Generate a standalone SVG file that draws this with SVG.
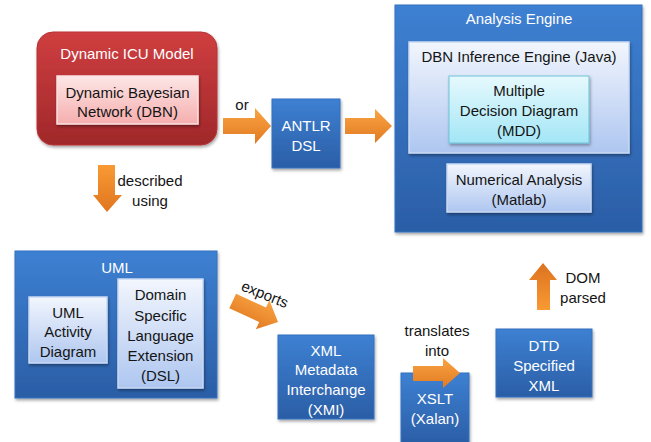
<svg xmlns="http://www.w3.org/2000/svg" width="651" height="442" viewBox="0 0 651 442">
<defs>
<linearGradient id="gBlue" x1="0" y1="0" x2="0" y2="1"><stop offset="0" stop-color="#3d80d2"/><stop offset="1" stop-color="#2b5ea6"/></linearGradient>
<linearGradient id="gLight" x1="0" y1="0" x2="0" y2="1"><stop offset="0" stop-color="#f2f6fd"/><stop offset="1" stop-color="#aec6f0"/></linearGradient>
<linearGradient id="gCyan" x1="0" y1="0" x2="0" y2="1"><stop offset="0" stop-color="#e6f9fd"/><stop offset="1" stop-color="#a3e6f6"/></linearGradient>
<linearGradient id="gRed" x1="0" y1="0" x2="0" y2="1"><stop offset="0" stop-color="#cf3e40"/><stop offset="1" stop-color="#a0282a"/></linearGradient>
<linearGradient id="gPink" x1="0" y1="0" x2="0" y2="1"><stop offset="0" stop-color="#fde6e6"/><stop offset="1" stop-color="#f6aeae"/></linearGradient>
<linearGradient id="gOrange" x1="0" y1="0" x2="0" y2="1"><stop offset="0" stop-color="#f9a443"/><stop offset="1" stop-color="#e27a22"/></linearGradient>
<linearGradient id="gOrangeDown" x1="0" y1="0" x2="0" y2="1"><stop offset="0" stop-color="#f99a33"/><stop offset="1" stop-color="#e07520"/></linearGradient>
<linearGradient id="gOrangeUp" x1="0" y1="1" x2="0" y2="0"><stop offset="0" stop-color="#f99a33"/><stop offset="1" stop-color="#dc7220"/></linearGradient>
<filter id="sh" x="-10%" y="-10%" width="125%" height="130%"><feDropShadow dx="1" dy="2" stdDeviation="1.5" flood-color="#000" flood-opacity="0.35"/></filter>
</defs>
<style>
text{font-family:"Liberation Sans",Arial,sans-serif;font-size:15px;text-anchor:middle;dominant-baseline:central}
.w{fill:#ffffff}
.d{fill:#141414}
.blue{fill:url(#gBlue);stroke:#3570bf;stroke-width:1;filter:url(#sh)}
.light{fill:url(#gLight);stroke:#c9d9f3;stroke-width:1.5;filter:url(#sh)}
.cyan{fill:url(#gCyan);stroke:#6fc3d8;stroke-width:1;filter:url(#sh)}
.arr{fill:url(#gOrange)}
</style>
<rect width="651" height="442" fill="#ffffff"/>

<g id="connectors">
<polygon class="arr" points="223,118 255,118 255,108 271,126 255,144 255,134 223,134"/>
<polygon class="arr" points="345,118 375,118 375,109 392,126 375,143 375,134 345,134"/>
<polygon fill="url(#gOrangeDown)" points="98,165 115,165 115,195 122,195 107,212 93,195 98,195"/>
<polygon class="arr" transform="translate(232.7,300.9) rotate(25)" points="0,-8 33,-8 33,-16 50,0 33,16 33,8 0,8"/>
<polygon fill="url(#gOrangeUp)" points="537,310 550,310 550,280 557,280 543,263 529,280 537,280"/>
<text class="d" x="242" y="104">or</text>
<text class="d" x="150" y="180">described</text>
<text class="d" x="150" y="200">using</text>
<text class="d" transform="translate(265,294) rotate(22)">exports</text>
<text class="d" x="437" y="330">translates</text>
<text class="d" x="437" y="350">into</text>
<text class="d" x="583" y="277">DOM</text>
<text class="d" x="583" y="297">parsed</text>
</g>

<g id="dynamic-icu-model">
<rect x="37" y="32" width="180" height="113" rx="16" fill="url(#gRed)" stroke="#b83234" filter="url(#sh)"/>
<text class="w" x="127" y="53">Dynamic ICU Model</text>
</g>
<g id="dbn">
<rect x="57" y="76" width="141" height="48" fill="url(#gPink)" stroke="#fbe0e0" stroke-width="1.5" filter="url(#sh)"/>
<text class="d" x="127.5" y="92">Dynamic Bayesian</text>
<text class="d" x="127.5" y="111">Network (DBN)</text>
</g>

<g id="antlr-dsl">
<rect class="blue" x="272" y="99" width="68" height="69"/>
<text class="w" x="306" y="125">ANTLR</text>
<text class="w" x="306" y="145">DSL</text>
</g>

<g id="analysis-engine">
<rect class="blue" x="395" y="5" width="247" height="227"/>
<text class="w" x="519" y="18">Analysis Engine</text>
</g>
<g id="dbn-inference-engine">
<rect class="light" x="409" y="42" width="220" height="111"/>
<text class="d" x="519" y="56">DBN Inference Engine (Java)</text>
</g>
<g id="mdd">
<rect class="cyan" x="449" y="76" width="140" height="67"/>
<text class="d" x="519" y="90">Multiple</text>
<text class="d" x="519" y="110">Decision Diagram</text>
<text class="d" x="519" y="130">(MDD)</text>
</g>
<g id="numerical-analysis">
<rect class="light" x="447" y="164" width="144" height="48"/>
<text class="d" x="519" y="179">Numerical Analysis</text>
<text class="d" x="519" y="199">(Matlab)</text>
</g>

<g id="uml">
<rect class="blue" x="15" y="251" width="202" height="147"/>
<text class="w" x="117" y="267">UML</text>
</g>
<g id="uml-activity-diagram">
<rect class="light" x="29" y="297" width="78" height="66"/>
<text class="d" x="68" y="312">UML</text>
<text class="d" x="68" y="331">Activity</text>
<text class="d" x="68" y="351">Diagram</text>
</g>
<g id="dsl-extension">
<rect class="light" x="118" y="279" width="85" height="109"/>
<text class="d" x="160.5" y="294">Domain</text>
<text class="d" x="160.5" y="315">Specific</text>
<text class="d" x="160.5" y="335">Language</text>
<text class="d" x="160.5" y="355">Extension</text>
<text class="d" x="160.5" y="375">(DSL)</text>
</g>

<g id="xmi">
<rect class="blue" x="278" y="335" width="96" height="84"/>
<text class="w" x="326" y="350">XML</text>
<text class="w" x="326" y="369">Metadata</text>
<text class="w" x="326" y="389">Interchange</text>
<text class="w" x="326" y="409">(XMI)</text>
</g>

<g id="xslt">
<rect class="blue" x="401" y="373" width="68" height="72"/>
<text class="w" x="435" y="398">XSLT</text>
<text class="w" x="435" y="418">(Xalan)</text>
</g>
<polygon class="arr" points="413,366 443,366 443,358 460,373 443,388 443,381 413,381"/>

<g id="dtd-xml">
<rect class="blue" x="496" y="329" width="96" height="68"/>
<text class="w" x="544" y="345">DTD</text>
<text class="w" x="544" y="365">Specified</text>
<text class="w" x="544" y="385">XML</text>
</g>
</svg>
